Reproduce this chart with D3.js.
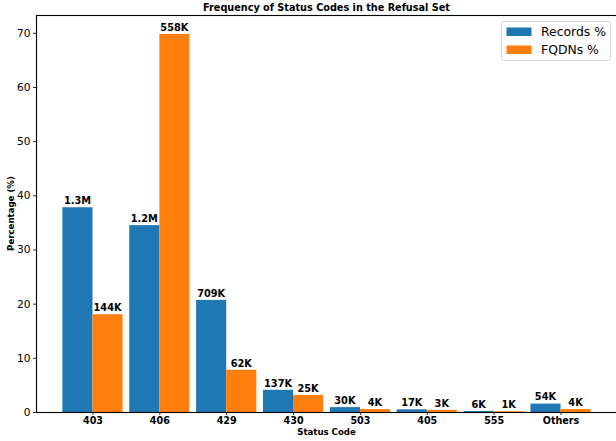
<!DOCTYPE html>
<html>
<head>
<meta charset="utf-8">
<script src="https://cdn.jsdelivr.net/npm/d3@7"></script>
<style>
  html, body { margin: 0; padding: 0; background: #fff; }
  svg { display: block; font-family: "DejaVu Sans", sans-serif; }
</style>
</head>
<body>
<svg id="chart" width="616" height="441"></svg>
<script>
// Status codes and their share of the refusal set
const categories = ["403", "406", "429", "430", "503", "405", "555", "Others"];
const recordsPct = [37.8, 34.5, 20.7, 4.1, 0.9, 0.5, 0.2, 1.55];
const fqdnsPct   = [18.05, 69.8, 7.8, 3.15, 0.55, 0.4, 0.15, 0.55];
const recordsLabels = ["1.3M", "1.2M", "709K", "137K", "30K", "17K", "6K", "54K"];
const fqdnsLabels   = ["144K", "558K", "62K", "25K", "4K", "3K", "1K", "4K"];
const seriesNames = ["Records %", "FQDNs %"];
const yTicks = [0, 10, 20, 30, 40, 50, 60, 70];

const colors = ["#1f77b4", "#ff7f0e"];
const barW = 0.45;

const svg = d3.select("#chart");
const plotLeft = 36, plotRight = 617, plotTop = 15, plotBottom = 412;

svg.append("rect").attr("width", 616).attr("height", 441).attr("fill", "#fff");

const n = categories.length;
const xMin = -barW, xMax = (n - 1) + barW;
const pad = (xMax - xMin) * 0.05;
const x = d3.scaleLinear().domain([xMin - pad, xMax + pad]).range([plotLeft, plotRight]);
const yMax = d3.max([...recordsPct, ...fqdnsPct]) * 1.05;
const y = d3.scaleLinear().domain([0, yMax]).range([plotBottom, plotTop]);

const series = [
  { values: recordsPct, labels: recordsLabels, offset: -barW, color: colors[0] },
  { values: fqdnsPct, labels: fqdnsLabels, offset: 0, color: colors[1] }
];

const plot = svg.append("g");
series.forEach(s => {
  plot.selectAll(null)
    .data(s.values)
    .enter().append("rect")
    .attr("x", (d, i) => x(i + s.offset))
    .attr("width", (d, i) => x(i + s.offset + barW) - x(i + s.offset))
    .attr("y", d => y(d))
    .attr("height", d => y(0) - y(d))
    .attr("fill", s.color);

  plot.selectAll(null)
    .data(s.values)
    .enter().append("text")
    .attr("x", (d, i) => x(i + s.offset + barW / 2))
    .attr("y", d => y(d) - 3.2)
    .attr("text-anchor", "middle")
    .attr("font-size", "9.8px")
    .attr("font-weight", "bold")
    .attr("fill", "#000")
    .text((d, i) => s.labels[i]);
});

// Axes
const yAxis = d3.axisLeft(y).tickValues(yTicks).tickSize(3).tickPadding(2.5);
const gy = svg.append("g").attr("transform", `translate(${plotLeft},0)`).call(yAxis);
gy.select(".domain").remove();
gy.selectAll("text").attr("font-size", "10.6px").attr("font-family", "DejaVu Sans").attr("fill", "#000");
gy.selectAll("line").attr("stroke", "#000").attr("stroke-width", 0.8);

const xAxis = d3.axisBottom(x).tickValues(d3.range(n)).tickFormat(i => categories[i]).tickSize(3).tickPadding(2.5);
const gx = svg.append("g").attr("transform", `translate(0,${plotBottom})`).call(xAxis);
gx.select(".domain").remove();
gx.selectAll("text").attr("font-size", "9.6px").attr("font-weight", "bold").attr("font-family", "DejaVu Sans").attr("fill", "#000");
gx.selectAll("line").attr("stroke", "#000").attr("stroke-width", 0.8);

// Frame
svg.append("rect")
  .attr("x", plotLeft + 0.5).attr("y", plotTop + 0.5)
  .attr("width", plotRight - plotLeft).attr("height", plotBottom - plotTop)
  .attr("fill", "none").attr("stroke", "#000").attr("stroke-width", 1.1);

// Title and axis labels
svg.append("text")
  .attr("x", (plotLeft + plotRight) / 2).attr("y", 11.2)
  .attr("text-anchor", "middle").attr("font-size", "9.7px").attr("font-weight", "bold")
  .text("Frequency of Status Codes in the Refusal Set");

svg.append("text")
  .attr("x", (plotLeft + plotRight) / 2).attr("y", 435)
  .attr("text-anchor", "middle").attr("font-size", "8.6px").attr("font-weight", "bold")
  .text("Status Code");

svg.append("text")
  .attr("transform", `translate(13.8,${(plotTop + plotBottom) / 2}) rotate(-90)`)
  .attr("text-anchor", "middle").attr("font-size", "8.6px").attr("font-weight", "bold")
  .text("Percentage (%)");

// Legend
const lg = svg.append("g").attr("transform", "translate(501.5,21.5)");
lg.append("rect").attr("width", 109).attr("height", 39).attr("rx", 2.5)
  .attr("fill", "#fff").attr("fill-opacity", 0.8).attr("stroke", "#ccc").attr("stroke-width", 0.8);
seriesNames.forEach((name, i) => {
  lg.append("rect").attr("x", 5).attr("y", 6 + i * 18).attr("width", 25).attr("height", 8.5).attr("fill", colors[i]);
  lg.append("text").attr("x", 39.5).attr("y", 14.5 + i * 18).attr("font-size", "12.4px").attr("fill", "#000").text(name);
});
</script>
</body>
</html>
